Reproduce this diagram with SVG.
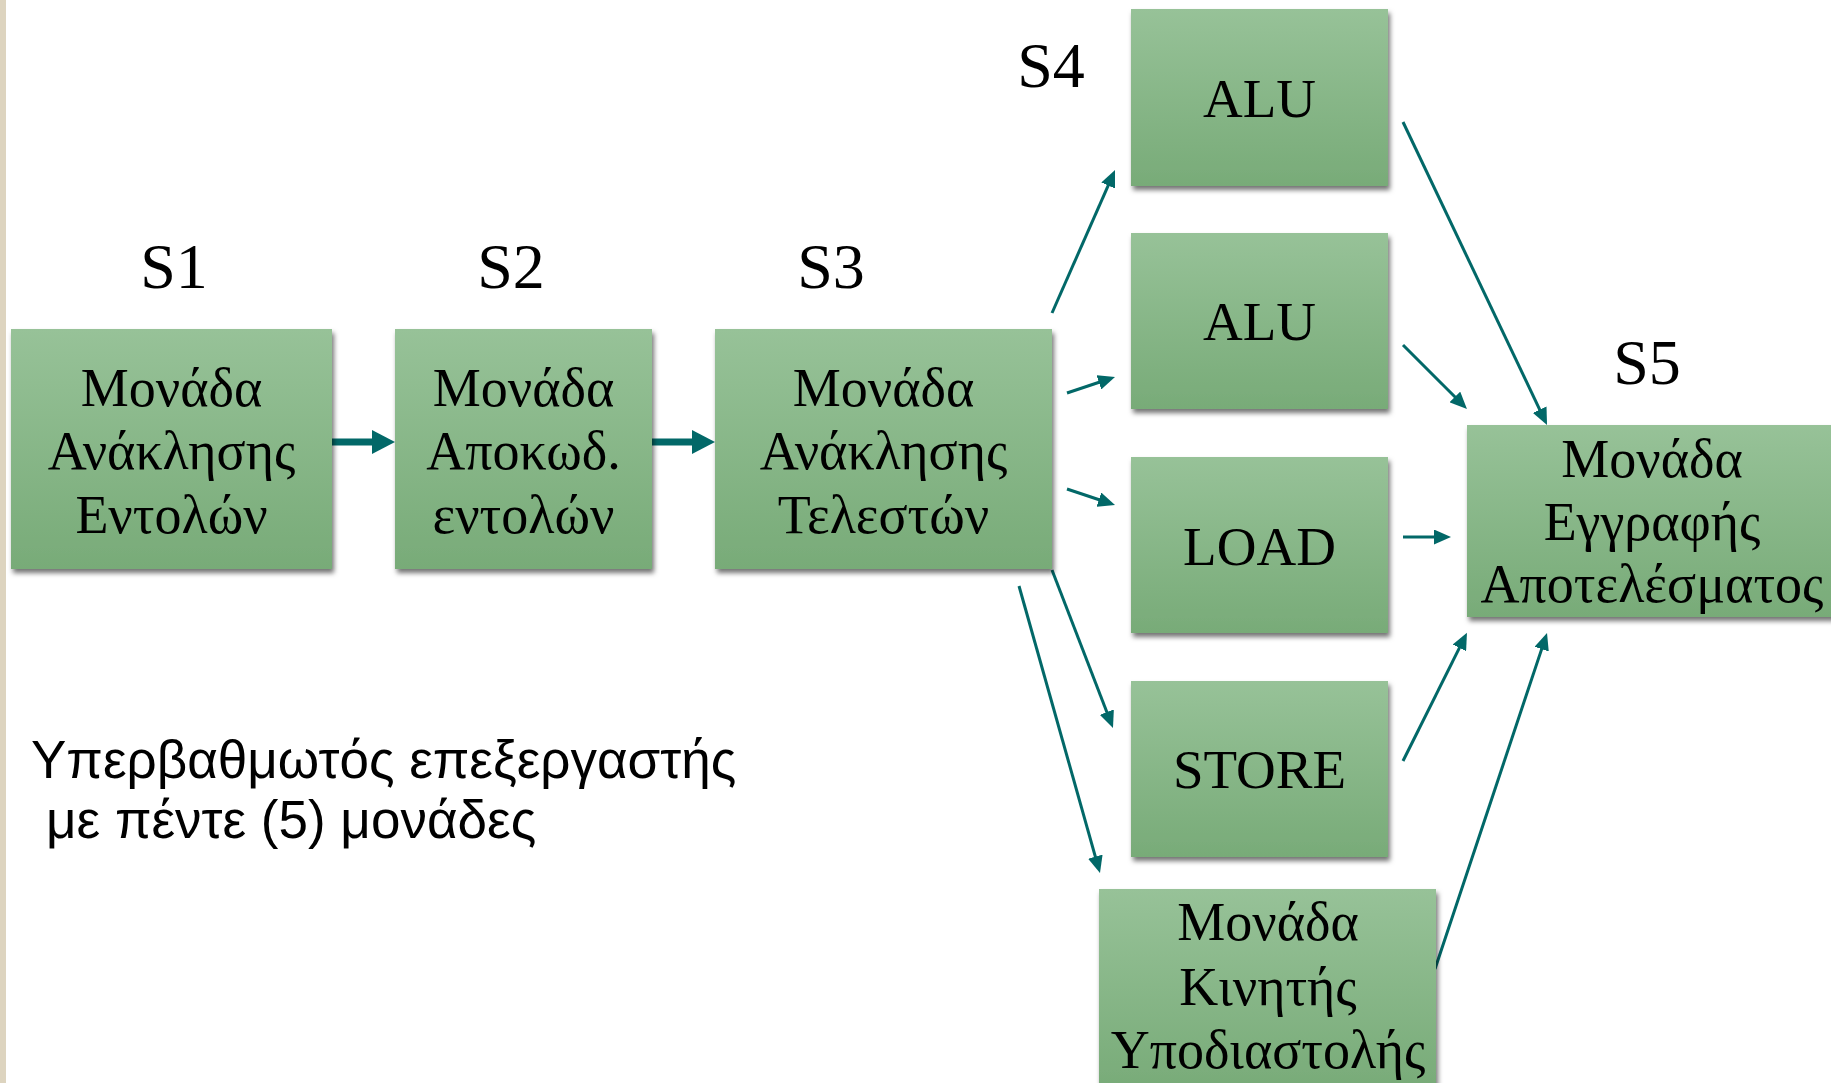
<svg xmlns="http://www.w3.org/2000/svg" width="1831" height="1083" viewBox="0 0 1831 1083">
<defs>
<linearGradient id="g" x1="0" y1="0" x2="0" y2="1">
<stop offset="0" stop-color="#97c298"/>
<stop offset="1" stop-color="#78ab78"/>
</linearGradient>
<filter id="sh" x="-10%" y="-10%" width="130%" height="130%">
<feDropShadow dx="2" dy="4" stdDeviation="2.5" flood-color="#000" flood-opacity="0.55"/>
</filter>
<marker id="ah" markerUnits="userSpaceOnUse" markerWidth="17" markerHeight="15" refX="9" refY="7.5" orient="auto">
<path d="M0,0 L17,7.5 L0,15 z" fill="#026868"/>
</marker>
<marker id="ahb" markerUnits="userSpaceOnUse" markerWidth="23" markerHeight="24" refX="11" refY="12" orient="auto">
<path d="M0,0 L23,12 L0,24 z" fill="#026868"/>
</marker>
</defs>
<style>
.box{fill:url(#g);filter:url(#sh);}
.t{font-family:"Liberation Serif","Times New Roman",serif;font-size:54px;fill:#000;text-anchor:middle;}
.l{font-family:"Liberation Serif","Times New Roman",serif;font-size:55px;fill:#000;text-anchor:middle;}
.s{font-family:"Liberation Serif","Times New Roman",serif;font-size:64px;fill:#000;text-anchor:middle;}
.c{stroke:#026868;stroke-width:3;fill:none;marker-end:url(#ah);}
.cb{stroke:#026868;stroke-width:7;fill:none;marker-end:url(#ahb);}
.note{font-family:"Liberation Sans",Arial,sans-serif;font-size:53px;fill:#000;}
</style>
<rect x="0" y="0" width="1831" height="1083" fill="#fff"/>
<rect x="0" y="0" width="6" height="1083" fill="#ddd4bf"/>

<g id="labels">
<text class="s" x="174" y="288">S1</text>
<text class="s" x="511" y="288">S2</text>
<text class="s" x="831" y="288">S3</text>
<text class="s" x="1051" y="87">S4</text>
<text class="s" x="1647" y="384">S5</text>
</g>

<g id="connectors">
<line class="cb" x1="332" y1="442" x2="383" y2="442"/>
<line class="cb" x1="652" y1="442" x2="703" y2="442"/>
<line class="c" x1="1052" y1="313" x2="1111.8" y2="177.3"/>
<line class="c" x1="1067" y1="393" x2="1107.4" y2="379.5"/>
<line class="c" x1="1067" y1="489" x2="1107.4" y2="502.5"/>
<line class="c" x1="1052" y1="570" x2="1110.1" y2="720.5"/>
<line class="c" x1="1019" y1="586" x2="1097.8" y2="865.3"/>
<line class="c" x1="1403" y1="122" x2="1543.6" y2="417.8"/>
<line class="c" x1="1403" y1="345" x2="1461.3" y2="403.3"/>
<line class="c" x1="1403" y1="537" x2="1443" y2="537"/>
<line class="c" x1="1403" y1="761" x2="1463.4" y2="639.8"/>
<line class="c" x1="1435" y1="969" x2="1544.5" y2="640.6"/>
</g>

<g id="s1">
<rect class="box" x="11" y="329" width="321" height="240"/>
<text class="t" x="171.5" y="406">Μονάδα</text>
<text class="t" x="171.5" y="469">Ανάκλησης</text>
<text class="t" x="171.5" y="533">Εντολών</text>
</g>
<g id="s2">
<rect class="box" x="395" y="329" width="257" height="240"/>
<text class="t" x="523.5" y="406">Μονάδα</text>
<text class="t" x="523.5" y="469">Αποκωδ.</text>
<text class="t" x="523.5" y="533">εντολών</text>
</g>
<g id="s3">
<rect class="box" x="715" y="329" width="337" height="240"/>
<text class="t" x="883.5" y="406">Μονάδα</text>
<text class="t" x="883.5" y="469">Ανάκλησης</text>
<text class="t" x="883.5" y="533">Τελεστών</text>
</g>
<g id="alu1">
<rect class="box" x="1131" y="9" width="257" height="177"/>
<text class="l" x="1259.5" y="117">ALU</text>
</g>
<g id="alu2">
<rect class="box" x="1131" y="233" width="257" height="176"/>
<text class="l" x="1259.5" y="340">ALU</text>
</g>
<g id="load">
<rect class="box" x="1131" y="457" width="257" height="176"/>
<text class="l" x="1259.5" y="565">LOAD</text>
</g>
<g id="store">
<rect class="box" x="1131" y="681" width="257" height="176"/>
<text class="l" x="1259.5" y="788">STORE</text>
</g>
<g id="fpu">
<rect class="box" x="1099" y="889" width="337" height="200"/>
<text class="t" x="1268" y="940">Μονάδα</text>
<text class="t" x="1268" y="1005">Κινητής</text>
<text class="t" x="1268" y="1068">Υποδιαστολής</text>
</g>
<g id="s5">
<rect class="box" x="1467" y="425" width="372" height="192"/>
<text class="t" x="1652" y="477">Μονάδα</text>
<text class="t" x="1652" y="540">Εγγραφής</text>
<text class="t" x="1652" y="602">Αποτελέσματος</text>
</g>

<g id="note">
<text class="note" x="31" y="778">Υπερβαθμωτός επεξεργαστής</text>
<text class="note" x="46" y="838">με πέντε (5) μονάδες</text>
</g>
</svg>
